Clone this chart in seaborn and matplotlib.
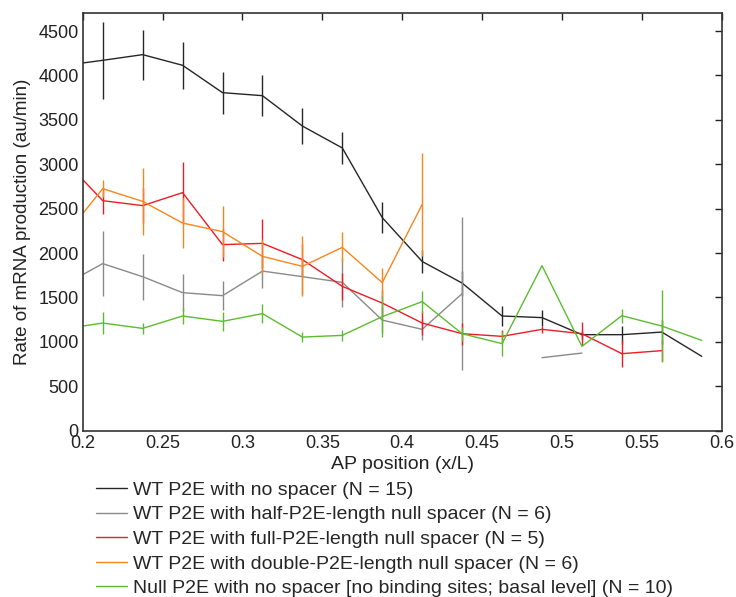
import numpy as np
import pandas as pd
import matplotlib
matplotlib.use("Agg")
import matplotlib.pyplot as plt
import seaborn as sns
from matplotlib.lines import Line2D

# ---- data ----
ap_position = [0.1875, 0.2125, 0.2375, 0.2625, 0.2875, 0.3125, 0.3375, 0.3625,
               0.3875, 0.4125, 0.4375, 0.4625, 0.4875, 0.5125, 0.5375, 0.5625, 0.5875]

wt_no_spacer = [4110, 4170, 4234, 4114, 3806, 3772, 3430, 3183,
                2399, 1905, 1662, 1291, 1273, 1081, 1081, 1110, 837]
wt_no_spacer_err = [0, 430, 280, 265, 237, 228, 200, 175,
                    175, 125, 140, 110, 90, 45, 100, 135, np.nan]

half_spacer = [1633, 1881, 1734, 1554, 1520, 1797, 1734, 1670,
               1245, 1141, 1543, np.nan, 822, 874, np.nan, np.nan, np.nan]
half_spacer_err = [0, 365, 258, 207, 163, 193, 200, 278,
                   150, 120, 860, np.nan, np.nan, np.nan, np.nan, np.nan, np.nan]

full_spacer = [3064, 2590, 2534, 2680, 2095, 2109, 1926, 1625,
               1437, 1212, 1092, 1062, 1141, 1092, 867, 901, np.nan]
full_spacer_err = [0, 150, 200, 350, 190, 275, 180, 150,
                   150, 135, 122, 70, 40, 130, 155, 120, np.nan]

double_spacer = [2163, 2725, 2582, 2338, 2241, 1963, 1850, 2064,
                 1667, 2547, np.nan, np.nan, np.nan, np.nan, np.nan, np.nan, np.nan]
double_spacer_err = [0, 95, 375, 280, 285, 190, 338, 170,
                     160, 575, np.nan, np.nan, np.nan, np.nan, np.nan, np.nan, np.nan]

null_no_spacer = [1144, 1212, 1152, 1291, 1231, 1318, 1054, 1073,
                  1284, 1453, 1092, 980, 1858, 949, 1295, 1178, 1017]
null_no_spacer_err = [0, 122, 62, 85, 107, 103, 56, 64,
                      232, 125, 80, 137, np.nan, np.nan, 80, 407, np.nan]

series_labels = [
    "WT P2E with no spacer (N = 15)",
    "WT P2E with half-P2E-length null spacer (N = 6)",
    "WT P2E with full-P2E-length null spacer (N = 5)",
    "WT P2E with double-P2E-length null spacer (N = 6)",
    "Null P2E with no spacer [no binding sites; basal level] (N = 10)",
]
series_values = [wt_no_spacer, half_spacer, full_spacer, double_spacer, null_no_spacer]
series_errors = [wt_no_spacer_err, half_spacer_err, full_spacer_err,
                 double_spacer_err, null_no_spacer_err]
colors = ["#262626", "#8a8a8a", "#ee1c25", "#f7861e", "#5cbc2e"]

x_ticks = [0.2, 0.25, 0.3, 0.35, 0.4, 0.45, 0.5, 0.55, 0.6]
y_ticks = [0, 500, 1000, 1500, 2000, 2500, 3000, 3500, 4000, 4500]

# ---- plot ----
sns.set_theme(style="white")
plt.rcParams["font.family"] = ["Liberation Sans", "DejaVu Sans"]

fig = plt.figure(figsize=(7.36, 5.97), dpi=100)
ax = fig.add_axes([0.1124, 0.2786, 0.8682, 0.6992])

for vals, errs, col in zip(series_values, series_errors, colors):
    v = np.array(vals, dtype=float)
    seg = np.cumsum(np.isnan(v))
    df = pd.DataFrame({"x": ap_position, "y": v, "seg": seg}).dropna()
    sns.lineplot(data=df, x="x", y="y", units="seg", estimator=None,
                 color=col, lw=1.0, ax=ax, legend=False, sort=False)
    ax.errorbar(ap_position, v, yerr=np.array(errs, dtype=float), fmt="none",
                ecolor=col, elinewidth=1.0, capsize=0)

ax.set_xlim(0.2, 0.6)
ax.set_ylim(0, 4700)
ax.set_xticks(x_ticks)
ax.set_xticklabels([f"{t:g}" for t in x_ticks])
ax.set_yticks(y_ticks)
ax.set_yticklabels([str(t) for t in y_ticks])
ax.tick_params(direction="in", length=5, width=1, top=True, right=True,
               labelsize=13, colors="#222222", pad=3)
for sp in ax.spines.values():
    sp.set_color("#333333")
    sp.set_linewidth(1.2)
ax.set_xlabel("AP position (x/L)", fontsize=14, color="#222222", labelpad=3)
ax.set_ylabel("Rate of mRNA production (au/min)", fontsize=13.5, color="#222222", labelpad=5)
ax.grid(False)

handles = [Line2D([0], [0], color=c, lw=1.0) for c in colors]
fig.legend(handles, series_labels, loc="upper left", bbox_to_anchor=(0.131, 0.194),
           frameon=False, fontsize=14, handlelength=1.55, handletextpad=0.33,
           labelspacing=0.36, borderaxespad=0, borderpad=0)

fig.savefig("out.png", dpi=100, facecolor="white")
